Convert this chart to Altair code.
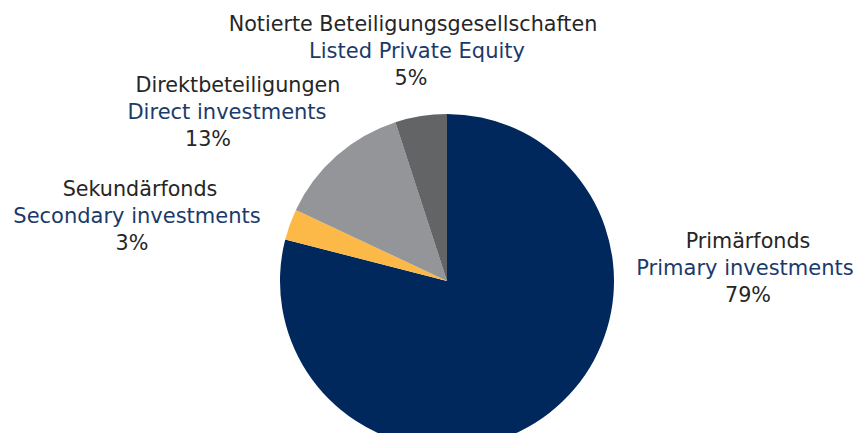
import altair as alt
import pandas as pd

# Data
categories_de = ["Primärfonds", "Sekundärfonds", "Direktbeteiligungen", "Notierte Beteiligungsgesellschaften"]
categories_en = ["Primary investments", "Secondary investments", "Direct investments", "Listed Private Equity"]
shares = [79, 3, 13, 5]
pct_labels = ["79%", "3%", "13%", "5%"]

colors = ["#00285C", "#FDB947", "#939598", "#636466"]

df = pd.DataFrame({
    "de": categories_de,
    "en": categories_en,
    "share": shares,
    "order": list(range(len(shares))),
})

# layout (page px: center x of each line, baseline y)
cx, cy, R = 447, 281, 167
label_layout = {
    0: [(748, 248), (745, 275), (748, 302)],
    1: [(140, 196), (137, 223), (132, 250)],
    2: [(238, 92), (227, 119), (208, 146)],
    3: [(413, 31), (417, 58), (411, 85)],
}
FONT = "DejaVu Sans"
FS_DE = 20.7
FS_EN = 21.0
M = 8  # page margin

pie = alt.Chart(df).mark_arc(outerRadius=R).encode(
    theta=alt.Theta("share:Q", stack=True),
    order=alt.Order("order:Q"),
    color=alt.Color("de:N", scale=alt.Scale(domain=categories_de, range=colors), legend=None),
    x=alt.value(cx - M),
    y=alt.value(cy - M),
)

layers = [pie]
for i in range(len(shares)):
    texts = [categories_de[i], categories_en[i], pct_labels[i]]
    tcolors = ["#262626", "#1B3A6B", "#262626"]
    sizes = [FS_DE, FS_EN, FS_DE]
    for j, (t, c, s) in enumerate(zip(texts, tcolors, sizes)):
        px, py = label_layout[i][j]
        layers.append(
            alt.Chart(pd.DataFrame({"t": [t]})).mark_text(
                font=FONT, fontSize=s, color=c, align="center", baseline="alphabetic"
            ).encode(text="t:N", x=alt.value(px - M), y=alt.value(py - M))
        )

chart = alt.layer(*layers).properties(
    width=847, height=425, autosize=alt.AutoSizeParams(type="none"), padding=0
).configure_view(stroke=None)

chart.save("out.html", embed_options={"renderer": "svg", "actions": False})
